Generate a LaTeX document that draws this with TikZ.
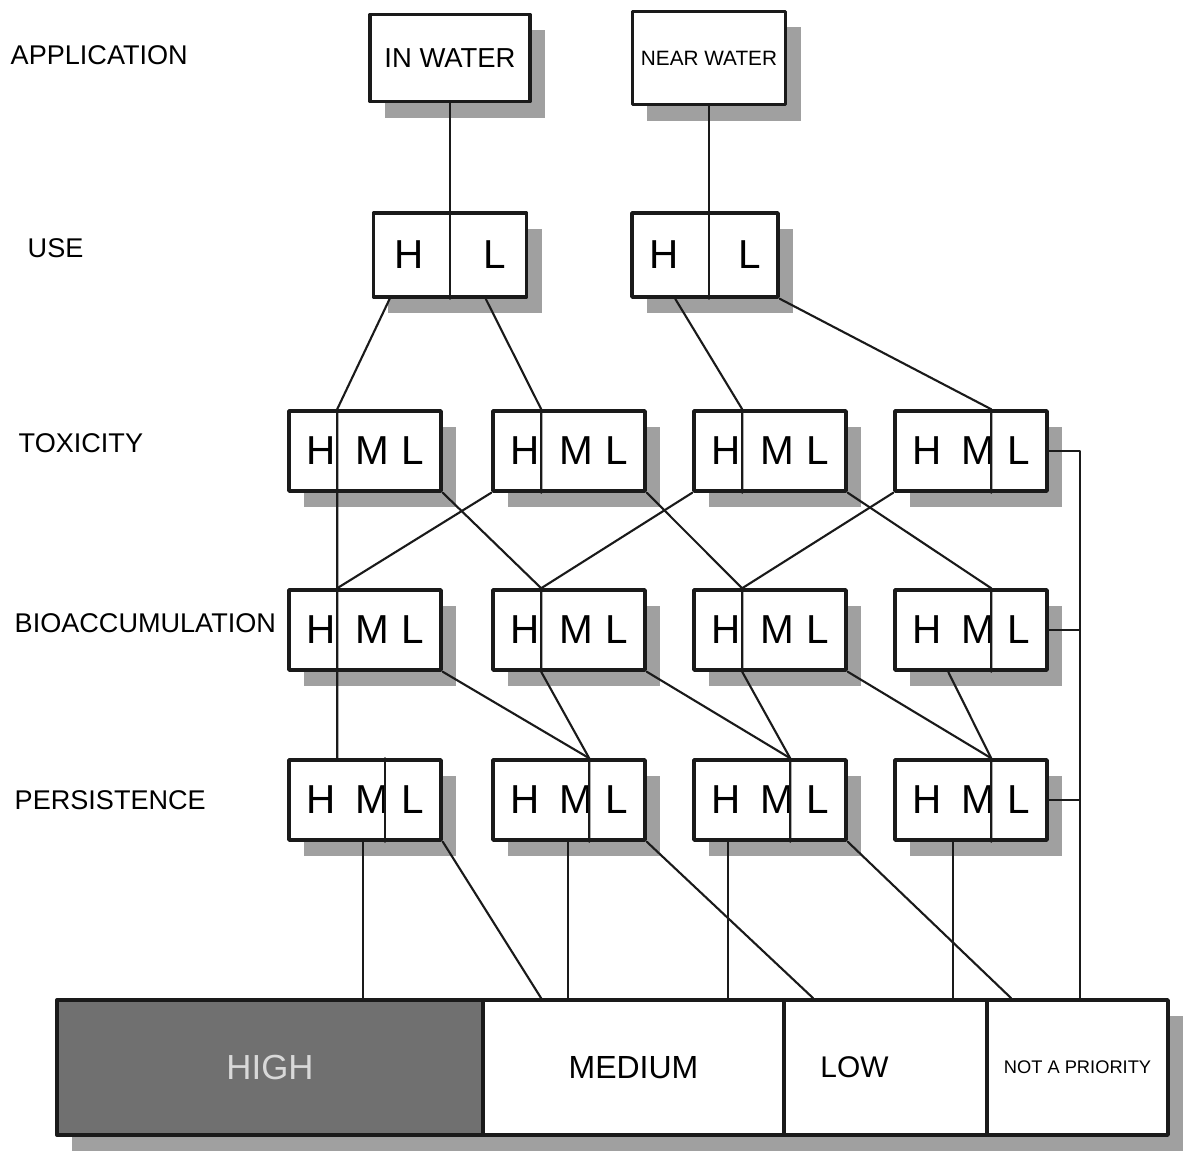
\documentclass[tikz,border=0pt]{standalone}
\usepackage{fontspec}
\setmainfont{Liberation Sans}
\usetikzlibrary{calc,shadows}
\definecolor{ink}{HTML}{1A1A1A}
\definecolor{stipple}{HTML}{A0A0A0}
\definecolor{dark}{HTML}{707070}

\begin{document}
\begin{tikzpicture}[x=0.01cm,y=-0.01cm,line cap=round,line join=round]
  \tikzset{
    dropped/.style={drop shadow={shadow xshift=0.15cm,shadow yshift=-0.16cm,fill=stipple,opacity=1}},
    card/.style={draw=ink,fill=white,line width=1pt,inner sep=0pt,dropped},
    rate/.style={card,minimum width=1.52cm,minimum height=0.8cm,font=\fontsize{11.5}{14}\selectfont},
    duo/.style={card,minimum height=0.84cm,font=\fontsize{11.5}{14}\selectfont},
    rowname/.style={font=\fontsize{7.7}{9}\selectfont,anchor=west,inner sep=0pt},
    band/.style={card,minimum height=1.35cm},
    link/.style={ink,line width=0.6pt}
  }
  \useasboundingbox (0,0) rectangle (1187,1151);

  % Application.
  \node[rowname] (lapp) at (10,55) {APPLICATION};
  \node[card,minimum width=1.6cm,minimum height=0.87cm,font=\fontsize{7.8}{9}\selectfont] (a1) at (450,58) {IN WATER};
  \node[card,minimum width=1.53cm,minimum height=0.93cm,font=\fontsize{5.9}{7}\selectfont] (a2) at (709,58) {NEAR WATER};

  % Use.
  \node[rowname] (luse) at (27,248) {USE};
  \node[duo,minimum width=1.53cm] (u1) at (450,255) {H\hspace{0.6cm}L};
  \node[duo,minimum width=1.46cm] (u2) at (705,255) {H\hspace{0.6cm}L};

  % Toxicity.
  \node[rowname] (ltox) at (18,443) {TOXICITY};
  \foreach \name/\x in {t1/365,t2/569,t3/770,t4/971}
    \node[rate] (\name) at (\x,451) {H\hspace{0.2cm}M\hspace{0.12cm}L};

  % Bioaccumulation.
  \node[rowname] (lbio) at (14,623) {BIOACCUMULATION};
  \foreach \name/\x in {b1/365,b2/569,b3/770,b4/971}
    \node[rate] (\name) at (\x,630) {H\hspace{0.2cm}M\hspace{0.12cm}L};

  % Persistence.
  \node[rowname] (lper) at (14,800) {PERSISTENCE};
  \foreach \name/\x in {p1/365,p2/569,p3/770,p4/971}
    \node[rate] (\name) at (\x,800) {H\hspace{0.2cm}M\hspace{0.12cm}L};

  % Priority band.
  \node[band,fill=dark,minimum width=4.26cm,text=white!85!black,font=\fontsize{9.9}{12}\selectfont] (hi) at (270,1067.5) {HIGH};
  \node[band,minimum width=3.01cm,font=\fontsize{9.1}{11}\selectfont] (med) at (633.5,1067.5) {MEDIUM};
  \node[band,minimum width=2.03cm,font=\fontsize{8.5}{10}\selectfont] (lo) at (885.5,1067.5) {LOW\kern0.62cm};
  \node[band,minimum width=1.81cm,font=\fontsize{5.2}{6}\selectfont] (np) at (1077.5,1067.5) {NOT A PRIORITY};

  % Links from application down to toxicity.
  \draw[link] (a1.south) -- (a1.south |- u1.south);
  \draw[link] (a2.south) -- (a2.south |- u2.south);
  \draw[link] ($(u1.south west)+(18,0)$) -- ($(t1.north west)+(50,0)$) -- ($(p1.north west)+(50,0)$);
  \draw[link] ($(u1.south west)+(114,0)$) -- ($(t2.north west)+(50,0)$) -- ($(t2.south west)+(50,0)$);
  \draw[link] ($(u2.south west)+(45,0)$) -- ($(t3.north west)+(50,0)$) -- ($(t3.south west)+(50,0)$);
  \draw[link] (u2.south east) -- ($(t4.north west)+(98,0)$) -- ($(t4.south west)+(98,0)$);

  % Toxicity to bioaccumulation to persistence.
  \draw[link] (t2.south west) -- ($(b1.north west)+(50,0)$);
  \draw[link] (t1.south east) -- ($(b2.north west)+(50,0)$) -- ($(b2.south west)+(50,0)$)
    -- ($(p2.north west)+(98,0)$) -- ($(p2.south west)+(98,0)$);
  \draw[link] (t3.south west) -- ($(b2.north west)+(50,0)$);
  \draw[link] (t2.south east) -- ($(b3.north west)+(50,0)$) -- ($(b3.south west)+(50,0)$)
    -- ($(p3.north west)+(98,0)$) -- ($(p3.south west)+(98,0)$);
  \draw[link] (t4.south west) -- ($(b3.north west)+(50,0)$);
  \draw[link] (t3.south east) -- ($(b4.north west)+(98,0)$) -- ($(b4.south west)+(98,0)$);
  \draw[link] (b1.south east) -- ($(p2.north west)+(98,0)$);
  \draw[link] (b2.south east) -- ($(p3.north west)+(98,0)$);
  \draw[link] (b3.south east) -- ($(p4.north west)+(98,0)$) -- ($(p4.south west)+(98,0)$);
  \draw[link] ($(b4.south west)+(55,0)$) -- ($(p4.north west)+(98,0)$);
  \draw[link] ($(p1.north west)+(98,0)$) -- ($(p1.south west)+(98,0)$);

  % Down to the priority band.
  \coordinate (p1m) at ($(p1.south west)+(76,0)$);
  \coordinate (p2m) at ($(p2.south west)+(77,0)$);
  \coordinate (p3m) at ($(p3.south west)+(36,0)$);
  \coordinate (p4m) at ($(p4.south west)+(60,0)$);
  \draw[link] (p1m) -- (p1m |- hi.north);
  \draw[link] (p1.south east) -- ($(med.north west)+(60,0)$);
  \draw[link] (p2m) -- (p2m |- med.north);
  \draw[link] (p2.south east) -- ($(lo.north west)+(31,0)$);
  \draw[link] (p3m) -- (p3m |- med.north);
  \draw[link] (p3.south east) -- ($(np.north west)+(26,0)$);
  \draw[link] (p4m) -- (p4m |- lo.north);
  \coordinate (rail) at ($(t4.east)+(31,0)$);
  \draw[link] (t4.east) -- (rail) -- (rail |- np.north);
  \draw[link] (b4.east) -- (b4.east -| rail);
  \draw[link] (p4.east) -- (p4.east -| rail);
\end{tikzpicture}
\end{document}
